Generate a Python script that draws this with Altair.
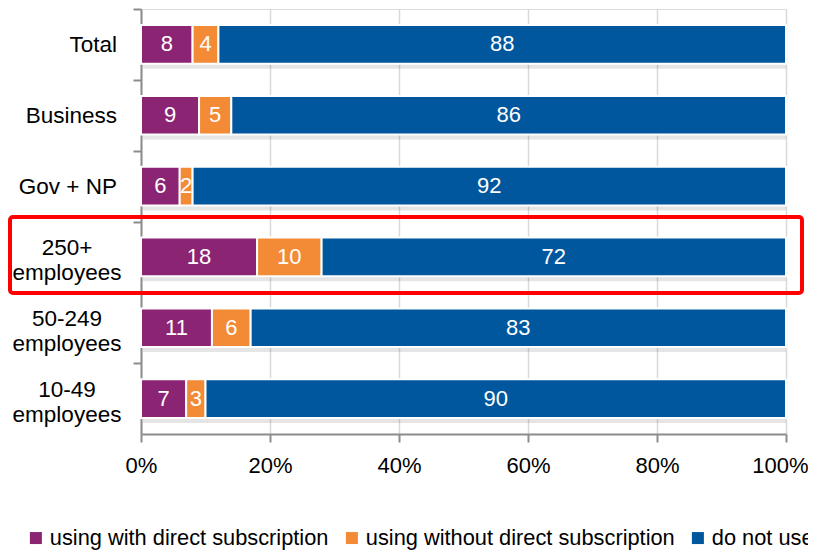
import altair as alt
import pandas as pd

# ---- data ----
categories = ["Total", "Business", "Gov + NP", "250+ employees", "50-249 employees", "10-49 employees"]
category_lines = ["Total", "Business", "Gov + NP", "250+\nemployees", "50-249\nemployees", "10-49\nemployees"]
series = ["using with direct subscription", "using without direct subscription", "do not use"]
direct = [8, 9, 6, 18, 11, 7]
indirect = [4, 5, 2, 10, 6, 3]
not_use = [88, 86, 92, 72, 83, 90]
colors = ["#8C2474", "#F38A35", "#00579D"]
x_ticks = [0, 20, 40, 60, 80, 100]
highlighted = "250+ employees"

# ---- long table ----
rows = []
for i, cat in enumerate(categories):
    start = 0
    for k, (name, vals) in enumerate(zip(series, [direct, indirect, not_use])):
        v = vals[i]
        rows.append({"cat": cat, "series": name, "order": k, "value": v,
                     "start": start, "end": start + v, "mid": start + v / 2})
        start += v
df = pd.DataFrame(rows)

lab_df = pd.DataFrame({"cat": categories, "label": category_lines,
                       "multi": ["\n" in s for s in category_lines]})
tot_df = pd.DataFrame({"cat": categories, "x0": [0] * len(categories), "x1": [100] * len(categories)})

FONT = "Liberation Sans, Arial, sans-serif"
GRAY = "#8c8c8c"

yscale = alt.Scale(domain=categories, paddingInner=0.455, paddingOuter=0.2275)
y_enc = alt.Y("cat:N", sort=categories, scale=yscale,
              axis=alt.Axis(labels=False, title=None, ticks=True, tickSize=8,
                            tickColor=GRAY, tickWidth=2, domainColor=GRAY,
                            domainWidth=2, bandPosition=0, tickOffset=-16, grid=False))
xscale = alt.Scale(domain=[0, 100], nice=False)

shadow = alt.Chart(tot_df).mark_bar(color="#000000", opacity=0.10, yOffset=5, xOffset=2).encode(
    y=y_enc,
    x=alt.X("x0:Q", scale=xscale),
    x2="x1:Q",
)

bars = alt.Chart(df).mark_bar(stroke="white", strokeWidth=2).encode(
    y=y_enc,
    x=alt.X("start:Q", scale=xscale, title=None,
            axis=alt.Axis(values=x_ticks, labelExpr="datum.value + '%'",
                          labelFontSize=22, labelColor="black", labelFont=FONT,
                          labelFlush=False,
                          labelPadding=13, tickSize=8, tickColor=GRAY, tickWidth=2,
                          labelOffset={"condition": {"test": "datum.value == 100", "value": -6}, "value": 0},
                          domainColor=GRAY, domainWidth=2, grid=True,
                          gridColor="#d9d9d9", gridWidth=1.5)),
    x2="end:Q",
    color=alt.Color("series:N", scale=alt.Scale(domain=series, range=colors),
                    legend=alt.Legend(orient="none", legendX=-116, legendY=518,
                                      direction="horizontal", title=None,
                                      labelFontSize=21.8, labelFont=FONT, labelColor="black",
                                      symbolType="square", symbolSize=144,
                                      symbolStrokeWidth=0, columnPadding=12,
                                      labelOffset=3, labelLimit=500)),
    order=alt.Order("order:Q"),
)

values = alt.Chart(df).mark_text(color="white", fontSize=22, font=FONT).encode(
    y=alt.Y("cat:N", sort=categories, scale=yscale),
    x=alt.X("mid:Q", scale=xscale),
    text=alt.Text("value:Q"),
)

single_labels = alt.Chart(lab_df).transform_filter("!datum.multi").mark_text(
    align="right", baseline="middle", fontSize=22.5, font=FONT, color="black", dy=1
).encode(
    y=alt.Y("cat:N", sort=categories, scale=yscale),
    x=alt.value(-24),
    text="label:N",
)

multi_labels = alt.Chart(lab_df).transform_filter("datum.multi").mark_text(
    align="center", baseline="middle", fontSize=22.5, font=FONT, color="black",
    lineBreak="\n", lineHeight=25, dy=-9
).encode(
    y=alt.Y("cat:N", sort=categories, scale=yscale),
    x=alt.value(-74),
    text="label:N",
)

box = alt.Chart(pd.DataFrame({"cat": [highlighted]})).mark_rect(
    fill="transparent", stroke="#FF0000", strokeWidth=4, cornerRadius=3
).encode(
    x=alt.value(-131), x2=alt.value(661),
    y=alt.value(208), y2=alt.value(284),
)

chart = alt.layer(shadow, bars, values, single_labels, multi_labels, box).properties(
    width=645, height=425,
    autosize=alt.AutoSizeParams(type="none"),
    padding={"left": 133, "top": 1, "right": 22, "bottom": 116},
).configure_view(stroke=None).configure(font=FONT)

chart.save("out.html", embed_options={"renderer": "svg", "actions": False})
